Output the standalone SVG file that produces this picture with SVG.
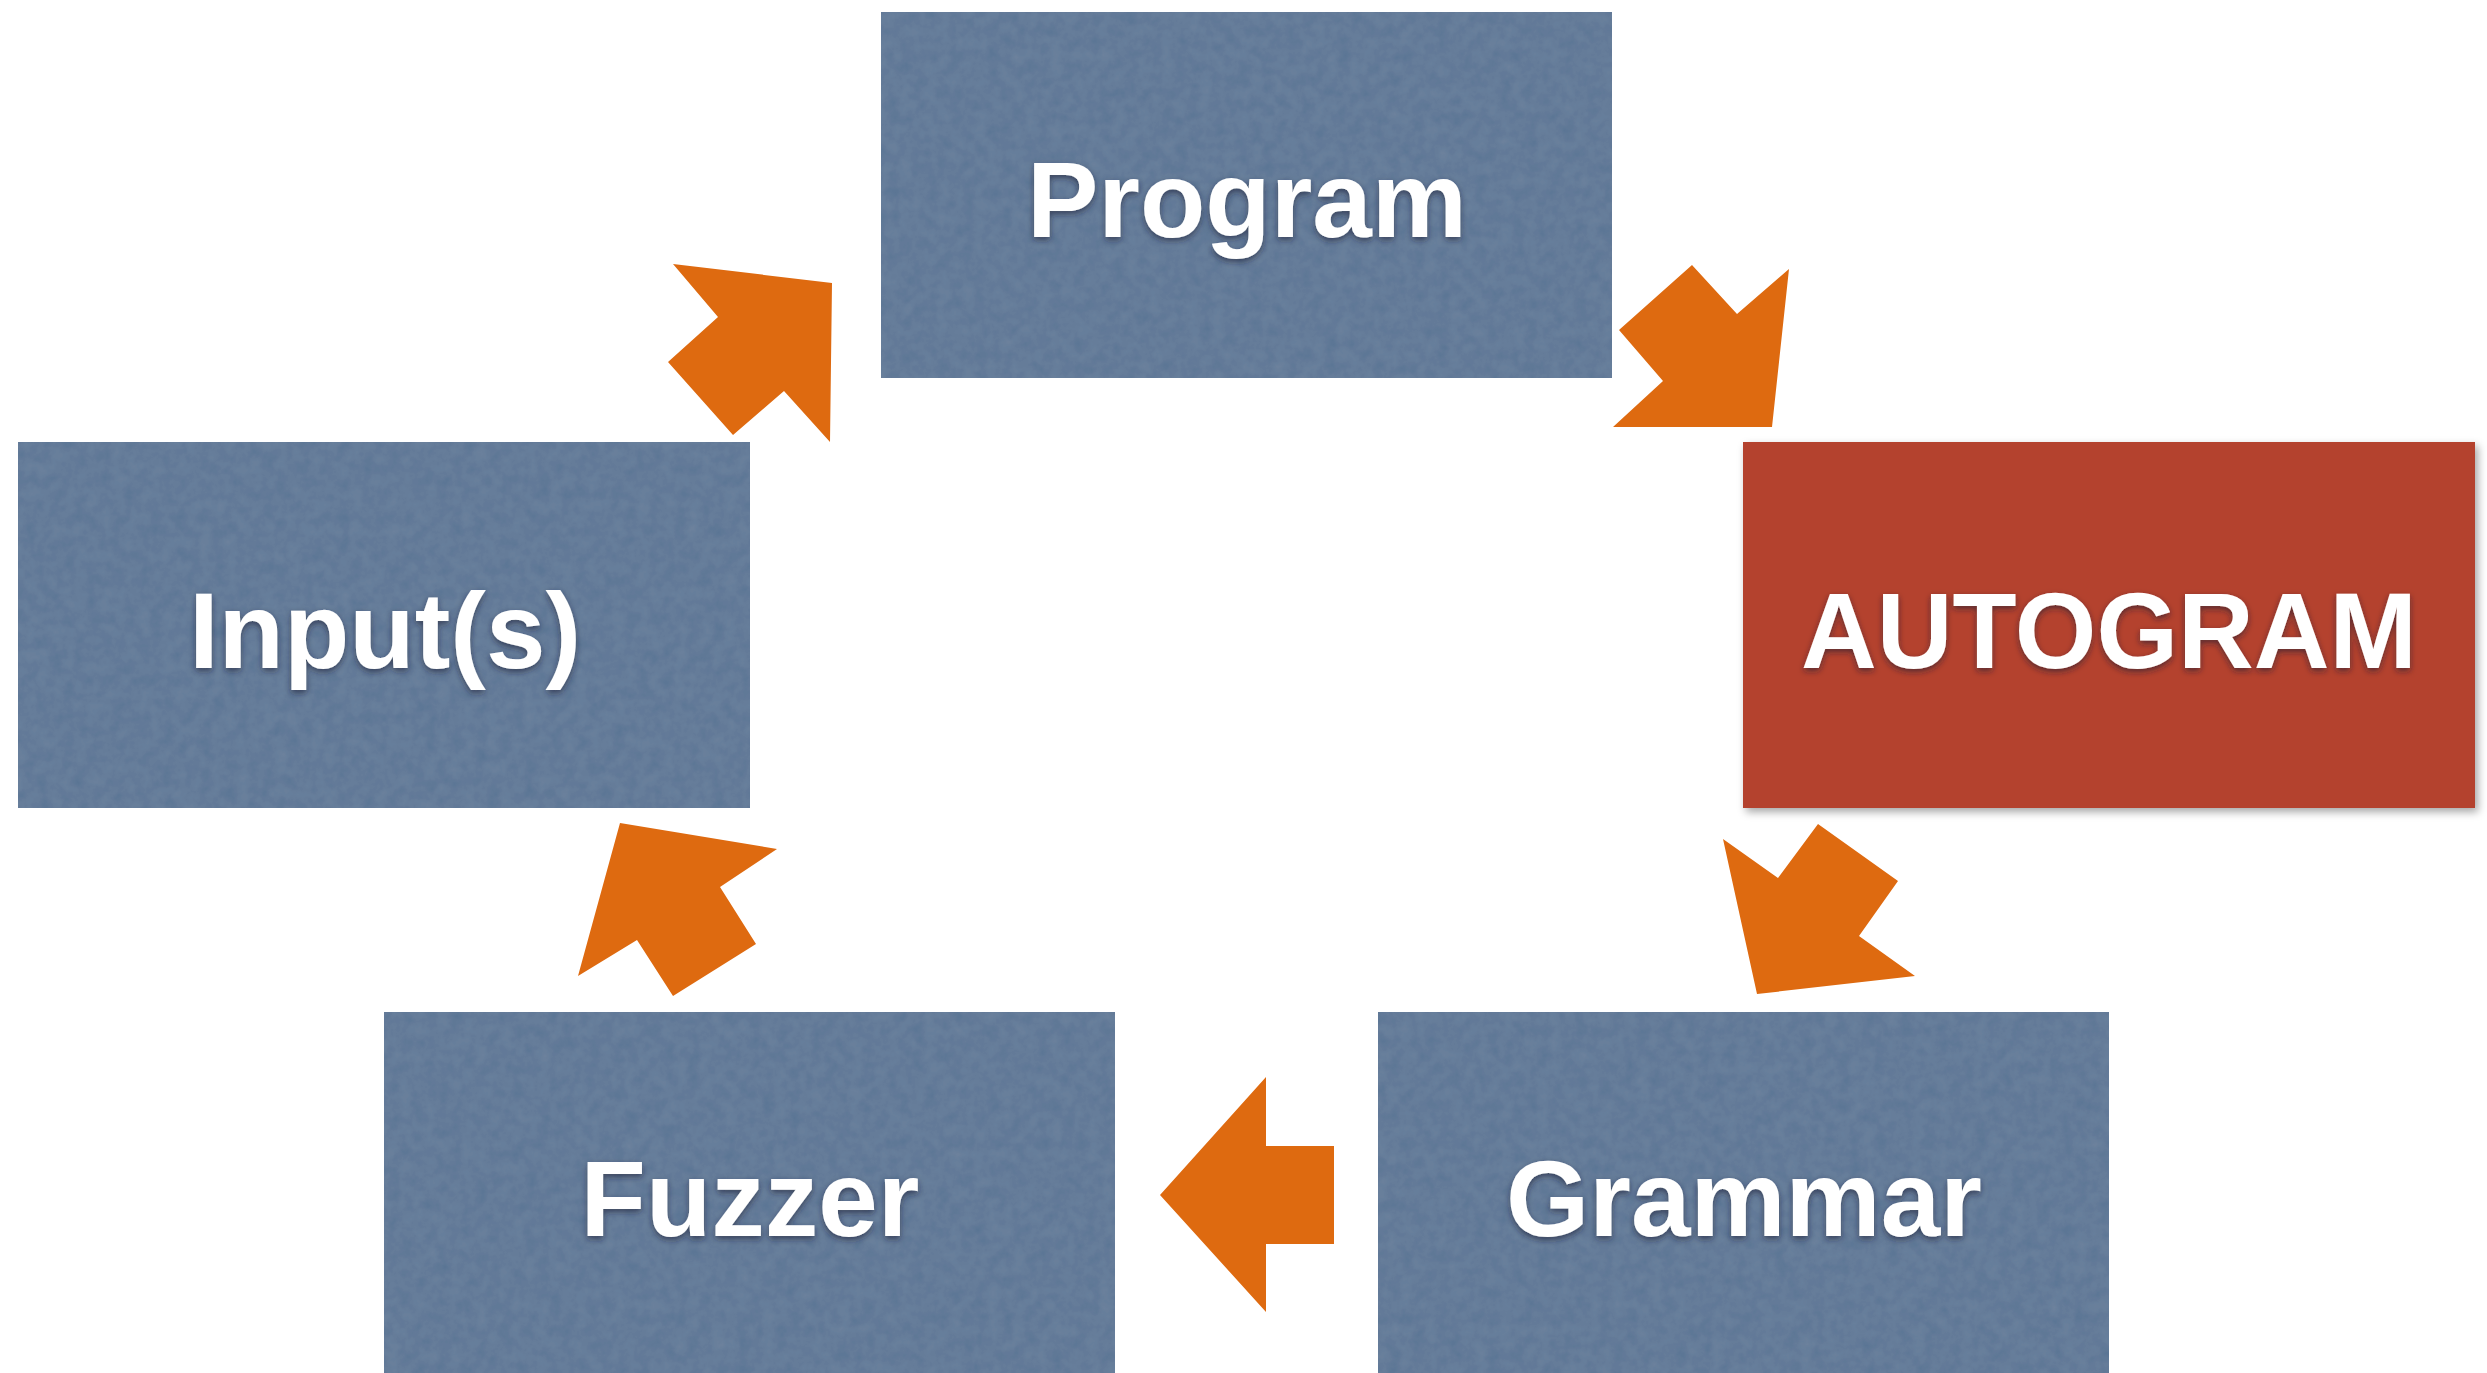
<svg xmlns="http://www.w3.org/2000/svg" width="2487" height="1373" viewBox="0 0 2487 1373">
  <defs>
    <filter id="tex" x="0" y="0" width="100%" height="100%">
      <feTurbulence type="fractalNoise" baseFrequency="0.08" numOctaves="3" seed="4" result="n"/>
      <feColorMatrix in="n" type="matrix" values="0 0 0 0 1  0 0 0 0 1  0 0 0 0 1  0 0 0 0.06 0" result="w"/>
      <feComposite in="w" in2="SourceGraphic" operator="in" result="wi"/>
      <feMerge><feMergeNode in="SourceGraphic"/><feMergeNode in="wi"/></feMerge>
    </filter>
    <filter id="boxshadow" x="-5%" y="-5%" width="112%" height="115%">
      <feDropShadow dx="3" dy="4" stdDeviation="4" flood-color="#000" flood-opacity="0.35"/>
    </filter>
    <filter id="txtshadow" x="-10%" y="-20%" width="120%" height="150%">
      <feDropShadow dx="0" dy="3" stdDeviation="3" flood-color="#1c2430" flood-opacity="0.6"/>
    </filter>
  </defs>
  <style>
    .box { fill: #5a7594; }
    .red { fill: #b4432f; }
    .lbl { font-family: "Liberation Sans", Arial, Helvetica, sans-serif; font-weight: bold; font-size: 107px; fill: #ffffff; text-anchor: middle; }
    .arrow { fill: #de6a10; }
  </style>
  <rect width="2487" height="1373" fill="#ffffff"/>

  <g id="program">
    <rect class="box" x="881" y="12" width="731" height="366" filter="url(#tex)"/>
    <text class="lbl" x="1247" y="237" filter="url(#txtshadow)">Program</text>
  </g>
  <g id="inputs">
    <rect class="box" x="18" y="442" width="732" height="366" filter="url(#tex)"/>
    <text class="lbl" x="385" y="668" filter="url(#txtshadow)">Input(s)</text>
  </g>
  <g id="autogram">
    <g filter="url(#boxshadow)">
      <rect class="red" x="1743" y="442" width="732" height="366"/>
    </g>
    <text class="lbl" x="2109" y="668" textLength="616" lengthAdjust="spacingAndGlyphs" filter="url(#txtshadow)">AUTOGRAM</text>
  </g>
  <g id="fuzzer">
    <rect class="box" x="384" y="1012" width="731" height="370" filter="url(#tex)"/>
    <text class="lbl" x="750" y="1236" filter="url(#txtshadow)">Fuzzer</text>
  </g>
  <g id="grammar">
    <rect class="box" x="1378" y="1012" width="731" height="370" filter="url(#tex)"/>
    <text class="lbl" x="1744" y="1236" filter="url(#txtshadow)">Grammar</text>
  </g>

  <g id="connectors">
    <polygon class="arrow" points="673,264 832,283 830,442 784,391 733,435 668,362 718,317"/>
    <polygon class="arrow" points="1692,265 1737,314 1789,269 1772,427 1613,427 1663,381 1619,330"/>
    <polygon class="arrow" points="1723,839 1778,878 1818,824 1898,881 1859,936 1915,976 1757,994"/>
    <polygon class="arrow" points="1266,1077 1266,1146 1334,1146 1334,1244 1266,1244 1266,1312 1160,1195"/>
    <polygon class="arrow" points="620,823 777,849 720,887 756,944 673,996 637,940 578,976"/>
  </g>
</svg>
